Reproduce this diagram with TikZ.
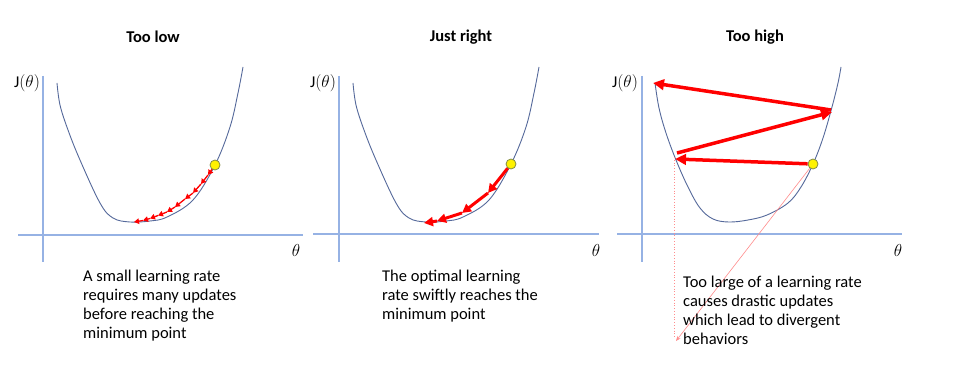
\documentclass[tikz,border=0pt]{standalone}
\usepackage{fontspec}
\setmainfont{Carlito}
\usetikzlibrary{arrows.meta}
\definecolor{axisblue}{RGB}{150,178,228}
\definecolor{curveblue}{RGB}{85,105,155}
\definecolor{pinkline}{RGB}{255,140,140}
\definecolor{dotedge}{RGB}{130,140,70}
\begin{document}
\begin{tikzpicture}[x=1pt,y=-1pt,
  axis/.style={draw=axisblue, line width=1.3pt},
  curve/.style={draw=curveblue, line width=0.9pt},
  smallarr/.style={draw=red, fill=red, line width=1.3pt, -{Triangle[length=5pt,width=5.5pt]}},
  medarr/.style={draw=red, fill=red, line width=3pt, -{Triangle[length=9pt,width=9pt]}},
  bigarr/.style={draw=red, fill=red, line width=3.5pt, -{Triangle[length=11pt,width=10.5pt]}},
  ydot/.style={circle, minimum size=10pt, inner sep=0pt, fill=yellow, draw=dotedge, line width=0.8pt},
  ttl/.style={font=\fontsize{16.5}{19}\selectfont\bfseries, inner sep=0pt},
  desc/.style={font=\fontsize{16.5}{19}\selectfont, align=left, anchor=north west, inner sep=0pt},
  lab/.style={font=\fontsize{16.5}{19}\selectfont, inner sep=0pt}]
\useasboundingbox (0,0) rectangle (966,385);
\fill[white] (0,0) rectangle (966,385);

% titles
\node[ttl] (t1) at (153,37) {Too low};
\node[ttl] (t2) at (461,37) {Just right};
\node[ttl] (t3) at (755,37) {Too high};

% ---------- panel 1 ----------
\draw[axis] (43,76) -- (43,262);
\draw[axis] (18,235) -- (303,235);
\node[lab] (j1) at (27,83) {J$(\theta)$};
\node[lab] (th1) at (296,250) {$\theta$};
\draw[curve] plot[smooth, tension=0.6] coordinates {(57,83) (60,105) (68,130) (80,160) (100,203) (113,218) (130,222) (150,221) (167,217) (193,200) (215,165) (230,127) (238,93) (243,67)};
\node[ydot] (d1) at (215,165) {};
\coordinate (s1) at (208,175);
\coordinate (s2) at (201,184);
\coordinate (s3) at (193,193);
\coordinate (s4) at (185,199);
\coordinate (s5) at (175,207);
\coordinate (s6) at (167,212);
\coordinate (s7) at (158,215.5);
\coordinate (s8) at (150,218.5);
\coordinate (s9) at (143,220.5);
\coordinate (s10) at (134,222);
\draw[smallarr] (d1) -- (s1);
\draw[smallarr] (s1) -- (s2);
\draw[smallarr] (s2) -- (s3);
\draw[smallarr] (s3) -- (s4);
\draw[smallarr] (s4) -- (s5);
\draw[smallarr] (s5) -- (s6);
\draw[smallarr] (s6) -- (s7);
\draw[smallarr] (s7) -- (s8);
\draw[smallarr] (s8) -- (s9);
\draw[smallarr] (s9) -- (s10);
\node[desc] (txt1) at (83,270) {A small learning rate\\requires many updates\\before reaching the\\minimum point};

% ---------- panel 2 ----------
\draw[axis] (339,76) -- (339,262);
\draw[axis] (313,234) -- (599,234);
\node[lab] (j2) at (323,83) {J$(\theta)$};
\node[lab] (th2) at (596,250) {$\theta$};
\draw[curve] plot[smooth, tension=0.6] coordinates {(353,83) (356,105) (364,130) (376,160) (396,203) (409,218) (426,222) (446,221) (463,217) (489,200) (511,164) (526,127) (534,93) (539,67)};
\node[ydot] (d2) at (511,164) {};
\coordinate (q1) at (488,193);
\coordinate (q2) at (462,213);
\coordinate (q3) at (437,221);
\coordinate (q4) at (424,223);
\draw[medarr] (d2) -- (q1);
\draw[medarr] (q1) -- (q2);
\draw[medarr] (q2) -- (q3);
\draw[medarr] (q3) -- (q4);
\node[desc] (txt2) at (382,270) {The optimal learning\\rate swiftly reaches the\\minimum point};

% ---------- panel 3 ----------
\draw[axis] (642,76) -- (642,262);
\draw[axis] (617,234) -- (902,234);
\node[lab] (j3) at (625,83) {J$(\theta)$};
\node[lab] (th3) at (898,250) {$\theta$};
\draw[curve] plot[smooth, tension=0.6] coordinates {(655,83) (659,108) (666,133) (676,160) (688,187) (700,208) (713,219) (729,222) (748,220) (767,215) (788,203) (801,187) (813,164) (823,138) (832,107) (838,83) (841,67)};
\node[ydot] (d3) at (813,164) {};
\coordinate (u1) at (675,159);
\coordinate (u2) at (677,153);
\coordinate (u3) at (832,112);
\coordinate (u4) at (831,110);
\coordinate (u5) at (653,83);
\coordinate (ptop) at (674,157);
\coordinate (ptip) at (676,341);
\coordinate (pbot) at (674,338);
\draw[pinkline, line width=0.8pt, dotted] (ptop) -- (pbot);
\draw[pinkline, line width=0.6pt, -{Stealth[length=5pt,width=4pt]}] (d3) -- (ptip);
\draw[bigarr] (d3) -- (u1);
\draw[bigarr] (u2) -- (u3);
\draw[bigarr] (u4) -- (u5);
\node[desc] (txt3) at (683,276) {Too large of a learning rate\\causes drastic updates\\which lead to divergent\\behaviors};
\end{tikzpicture}
\end{document}
